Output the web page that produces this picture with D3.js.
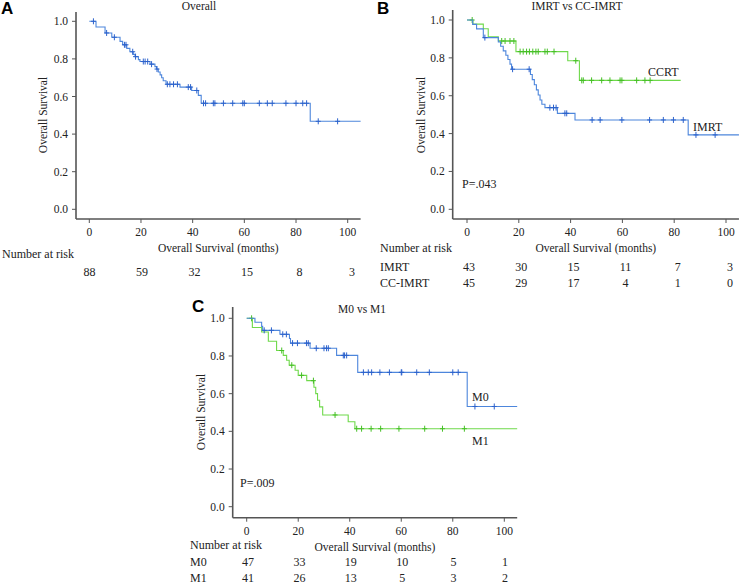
<!DOCTYPE html>
<html><head><meta charset="utf-8">
<script src="https://cdn.jsdelivr.net/npm/d3@7"></script>
<style>
html,body{margin:0;padding:0;background:#fff;}
svg{display:block;}
</style></head>
<body>
<svg id="chart" width="741" height="584" font-family="'Liberation Serif', 'DejaVu Serif', 'Times New Roman', Times, serif"></svg>
<script>
// ---------- DATA ----------
const xTicks = [0, 20, 40, 60, 80, 100];
const yTicks = [0, 0.2, 0.4, 0.6, 0.8, 1.0];
const riskTimes = [0, 20, 40, 60, 80, 100];

// Panel A: Overall
const aTimes = [0, 2.6, 6.1, 8.7, 11.9, 12.9, 14.5, 15.7, 17.0, 17.7, 19.0, 19.6, 23.5, 25.4, 26.0, 26.7, 27.4, 28.0, 28.6, 29.7, 35.1, 39.6, 42.2, 43.3, 85.5];
const aSurv  = [1.0, 0.970, 0.938, 0.915, 0.893, 0.875, 0.856, 0.838, 0.824, 0.812, 0.796, 0.786, 0.772, 0.759, 0.746, 0.730, 0.715, 0.700, 0.684, 0.665, 0.650, 0.632, 0.606, 0.564, 0.468];
const aCens  = [1.6, 6.7, 9.7, 13.6, 14.2, 16.8, 17.9, 20.9, 21.6, 22.6, 24.1, 26.2, 30.2, 31.2, 32.6, 34.1, 38.3, 39.2, 41.6, 44.2, 45.0, 48.0, 48.6, 51.9, 55.5, 59.4, 60.0, 65.8, 68.9, 70.8, 76.1, 80.0, 82.6, 84.1, 88.6, 96.1];
const aEnd = 105;
const aRisk = [88, 59, 32, 15, 8, 3];

// Panel B: IMRT vs CC-IMRT
const bImrtTimes = [0, 2.2, 3.7, 6.3, 12.1, 13.0, 14.0, 15.0, 15.8, 16.6, 17.2, 24.5, 25.2, 26.0, 26.8, 27.5, 28.2, 28.9, 30.1, 34.9, 41.7, 85.4];
const bImrtSurv  = [1.0, 0.977, 0.953, 0.907, 0.884, 0.861, 0.837, 0.814, 0.791, 0.767, 0.740, 0.712, 0.685, 0.658, 0.631, 0.604, 0.577, 0.555, 0.537, 0.507, 0.472, 0.393];
const bImrtCens  = [6.9, 17.6, 24.0, 32.0, 33.4, 34.4, 37.8, 38.5, 48.3, 51.4, 59.8, 70.5, 75.8, 79.7, 83.5, 88.4, 95.8];
const bImrtEnd = 105;
const bCcTimes = [0, 2.3, 6.3, 8.2, 12.1, 18.9, 38.9, 43.4];
const bCcSurv  = [1.0, 0.978, 0.954, 0.911, 0.889, 0.833, 0.785, 0.681];
const bCcCens  = [2.0, 13.4, 14.7, 16.6, 18.1, 20.5, 21.7, 23.0, 24.1, 25.4, 26.6, 27.5, 30.1, 31.0, 33.6, 42.0, 44.3, 44.9, 48.1, 52.0, 55.2, 59.1, 59.8, 65.5, 68.7, 70.7];
const bCcEnd = 82.5;
const bImrtRisk = [43, 30, 15, 11, 7, 3];
const bCcRisk = [45, 29, 17, 4, 1, 0];

// Panel C: M0 vs M1
const cM0Times = [0, 3.2, 5.8, 6.2, 12.9, 16.6, 17.0, 24.6, 34.9, 43.1, 85.6];
const cM0Surv  = [1.0, 0.979, 0.957, 0.936, 0.915, 0.893, 0.868, 0.841, 0.803, 0.713, 0.532];
const cM0Cens  = [6.8, 9.6, 14.0, 15.4, 17.8, 19.7, 23.2, 23.9, 27.0, 30.0, 31.0, 31.7, 37.5, 38.0, 38.8, 45.3, 47.2, 48.5, 51.7, 55.4, 60.0, 60.2, 66.0, 70.9, 80.0, 82.1, 88.6, 96.1];
const cM0End = 105;
const cM1Times = [0, 2.2, 5.8, 8.4, 11.6, 14.2, 15.5, 16.5, 18.8, 20.0, 23.3, 26.1, 26.8, 27.5, 28.3, 29.5, 39.4, 42.0];
const cM1Surv  = [1.0, 0.951, 0.927, 0.878, 0.829, 0.803, 0.777, 0.751, 0.724, 0.697, 0.669, 0.634, 0.600, 0.565, 0.530, 0.487, 0.451, 0.414];
const cM1Cens  = [1.9, 13.6, 17.5, 21.3, 25.9, 34.3, 42.7, 44.6, 48.3, 52.0, 59.1, 69.1, 76.0, 84.5];
const cM1End = 105;
const cM0Risk = [47, 33, 19, 10, 5, 1];
const cM1Risk = [41, 26, 13, 5, 3, 2];

// ---------- STYLE ----------
const BLUE = "#4d86dc", BLUE_C = "#2c62cc";
const GREEN = "#6fd94b", GREEN_C = "#45bf25";
const AXIS = "#555";
const TXT = "#222";
const SERIF = "'Liberation Serif', 'DejaVu Serif', 'Times New Roman', Times, serif";

const svg = d3.select("#chart");

function txt(g, x, y, s, size, anchor) {
  return g.append("text").attr("x", x).attr("y", y).attr("font-size", size)
    .attr("font-family", SERIF).attr("fill", TXT)
    .attr("text-anchor", anchor || "start").text(s);
}

function panel(o) {
  const g = svg.append("g");
  const x = d3.scaleLinear().domain([0, 100]).range([o.x0, o.x100]);
  const y = d3.scaleLinear().domain([0, 1]).range([o.y0, o.y1]);
  const axX = o.axisX, axY = o.axisY;

  g.append("line").attr("x1", axX).attr("x2", axX).attr("y1", o.yTop).attr("y2", axY)
    .attr("stroke", AXIS).attr("stroke-width", 1.6);
  g.append("line").attr("x1", axX).attr("x2", x(105)).attr("y1", axY).attr("y2", axY)
    .attr("stroke", AXIS).attr("stroke-width", 1.6);

  yTicks.forEach(v => {
    g.append("line").attr("x1", axX - 4).attr("x2", axX).attr("y1", y(v)).attr("y2", y(v))
      .attr("stroke", AXIS).attr("stroke-width", 1);
    txt(g, axX - 8, y(v) + 4, v.toFixed(1), 11.5, "end");
  });
  xTicks.forEach(v => {
    g.append("line").attr("x1", x(v)).attr("x2", x(v)).attr("y1", axY).attr("y2", axY + 4)
      .attr("stroke", AXIS).attr("stroke-width", 1);
    txt(g, x(v), axY + 17, v, 11.5, "middle");
  });

  g.append("text").attr("transform", `translate(${o.yTitleX},${o.yTitleY}) rotate(-90)`)
    .attr("font-family", SERIF).attr("fill", TXT)
    .attr("text-anchor", "middle").attr("font-size", 11.5).text("Overall Survival");
  txt(g, (axX + x(105)) / 2, axY + 33, "Overall Survival (months)", 11.5, "middle");

  txt(g, o.titleX, o.titleY, o.title, 11.5, "middle");
  g.append("text").attr("x", o.letterX).attr("y", o.letterY)
    .attr("font-family", "'Liberation Sans', Arial, Helvetica, sans-serif").attr("font-weight", "bold")
    .attr("font-size", 17).attr("fill", "#000").text(o.letter);

  const line = d3.line().x(d => x(d[0])).y(d => y(d[1])).curve(d3.curveStepAfter);
  o.series.forEach(s => {
    const pts = s.times.map((t, i) => [t, s.surv[i]]);
    pts.push([s.end, s.surv[s.surv.length - 1]]);
    g.append("path").attr("d", line(pts)).attr("fill", "none")
      .attr("stroke", s.color).attr("stroke-width", 1.1);
    const cg = g.append("g").attr("stroke", s.cColor).attr("stroke-width", 1);
    s.cens.forEach(c => {
      const idx = d3.bisectRight(s.times, c) - 1;
      const cx = x(c), cy = y(s.surv[idx]);
      cg.append("line").attr("x1", cx).attr("x2", cx).attr("y1", cy - 3).attr("y2", cy + 3);
      cg.append("line").attr("x1", cx - 2.5).attr("x2", cx + 2.5).attr("y1", cy).attr("y2", cy);
    });
  });

  (o.labels || []).forEach(l => txt(g, l.x, l.y, l.text, 12));

  const rx = d3.scaleLinear().domain([0, 100]).range(o.riskRange);
  txt(g, o.riskLabelX, o.riskHeadY, "Number at risk", 12);
  o.riskRows.forEach(r => {
    if (r.name) txt(g, o.riskLabelX, r.y, r.name, 12);
    r.values.forEach((v, i) => txt(g, rx(riskTimes[i]), r.y, v, 12, "middle"));
  });
}

panel({
  x0: 89.3, x100: 347.7, y0: 209.3, y1: 21.3, axisX: 76, axisY: 219, yTop: 12,
  yTitleX: 47, yTitleY: 115, title: "Overall", titleX: 199, titleY: 10,
  letter: "A", letterX: 1, letterY: 14,
  series: [{times: aTimes, surv: aSurv, cens: aCens, end: aEnd, color: BLUE, cColor: BLUE_C}],
  riskRange: [89.5, 352], riskLabelX: 2, riskHeadY: 258,
  riskRows: [{name: null, y: 276, values: aRisk}]
});

panel({
  x0: 467, x100: 726, y0: 209.3, y1: 20, axisX: 452.7, axisY: 219, yTop: 10,
  yTitleX: 425, yTitleY: 115, title: "IMRT vs CC-IMRT", titleX: 577, titleY: 10,
  letter: "B", letterX: 377, letterY: 14,
  series: [
    {times: bCcTimes, surv: bCcSurv, cens: bCcCens, end: bCcEnd, color: GREEN, cColor: GREEN_C},
    {times: bImrtTimes, surv: bImrtSurv, cens: bImrtCens, end: bImrtEnd, color: BLUE, cColor: BLUE_C}
  ],
  labels: [{text: "CCRT", x: 648, y: 76}, {text: "IMRT", x: 693, y: 131}, {text: "P=.043", x: 462, y: 188}],
  riskRange: [469, 730], riskLabelX: 380, riskHeadY: 252,
  riskRows: [{name: "IMRT", y: 271, values: bImrtRisk}, {name: "CC-IMRT", y: 287, values: bCcRisk}]
});

panel({
  x0: 246.7, x100: 504.3, y0: 506.7, y1: 318.3, axisX: 232.7, axisY: 517.7, yTop: 307,
  yTitleX: 205, yTitleY: 412, title: "M0 vs M1", titleX: 362, titleY: 313,
  letter: "C", letterX: 192, letterY: 312,
  series: [
    {times: cM1Times, surv: cM1Surv, cens: cM1Cens, end: cM1End, color: GREEN, cColor: GREEN_C},
    {times: cM0Times, surv: cM0Surv, cens: cM0Cens, end: cM0End, color: BLUE, cColor: BLUE_C}
  ],
  labels: [{text: "M0", x: 472, y: 401}, {text: "M1", x: 472, y: 445}, {text: "P=.009", x: 240, y: 487}],
  riskRange: [248, 505], riskLabelX: 190, riskHeadY: 549,
  riskRows: [{name: "M0", y: 566, values: cM0Risk}, {name: "M1", y: 582, values: cM1Risk}]
});
</script>
</body></html>
